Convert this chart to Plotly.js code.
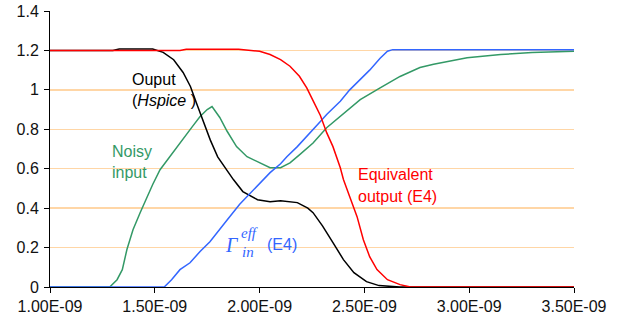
<!DOCTYPE html>
<html><head><meta charset="utf-8">
<script src="https://cdn.plot.ly/plotly-3.0.1.min.js"></script>
<style>html,body{margin:0;padding:0;background:#fff}#c{width:624px;height:326px}</style>
</head><body><div id="c"></div>
<script>
// time in ns, voltage in V
const hspiceT = [1.00,1.30,1.33,1.49,1.54,1.59,1.635,1.67,1.70,1.73,1.765,1.80,1.835,1.875,1.92,1.99,2.05,2.10,2.18,2.23,2.255,2.30,2.35,2.40,2.45,2.51,2.57,2.67,3.50];
const hspiceV = [1.200,1.200,1.207,1.207,1.19,1.153,1.088,1.017,0.93,0.845,0.745,0.66,0.605,0.545,0.484,0.443,0.433,0.438,0.428,0.40,0.377,0.31,0.225,0.139,0.073,0.027,0.007,0.0,0.0];

const equivT = [1.00,1.62,1.65,1.90,2.00,2.05,2.10,2.145,2.19,2.225,2.255,2.29,2.32,2.35,2.385,2.40,2.43,2.465,2.495,2.525,2.56,2.61,2.67,2.72,3.50];
const equivV = [1.200,1.200,1.206,1.206,1.196,1.179,1.153,1.12,1.069,1.01,0.945,0.87,0.783,0.712,0.605,0.545,0.458,0.357,0.24,0.154,0.088,0.037,0.012,0.0,0.0];

const noisyT = [1.00,1.285,1.32,1.345,1.367,1.396,1.43,1.463,1.49,1.525,1.573,1.62,1.68,1.716,1.75,1.773,1.81,1.845,1.89,1.94,2.00,2.05,2.10,2.145,2.19,2.255,2.32,2.385,2.48,2.575,2.67,2.765,2.83,2.99,3.15,3.30,3.50];
const noisyV = [0,0,0.037,0.088,0.19,0.29,0.377,0.458,0.52,0.595,0.665,0.73,0.815,0.865,0.9,0.915,0.86,0.79,0.712,0.661,0.63,0.605,0.605,0.63,0.67,0.73,0.808,0.865,0.95,1.01,1.068,1.113,1.13,1.163,1.179,1.19,1.196];

const gammaT = [1.00,1.545,1.58,1.62,1.668,1.716,1.763,1.81,1.845,1.905,1.955,2.00,2.05,2.10,2.13,2.18,2.225,2.29,2.32,2.385,2.43,2.48,2.525,2.575,2.61,2.635,3.50];
const gammaV = [0,0,0.037,0.088,0.123,0.18,0.23,0.295,0.34,0.42,0.475,0.529,0.58,0.625,0.661,0.712,0.762,0.839,0.875,0.942,1.0,1.05,1.1,1.16,1.196,1.204,1.204];

const xTickVals = [1.0,1.5,2.0,2.5,3.0,3.5];
const xTickText = ["1.00E-09","1.50E-09","2.00E-09","2.50E-09","3.00E-09","3.50E-09"];
const yTickVals = [0,0.2,0.4,0.6,0.8,1.0,1.2,1.4];
const yTickText = ["0","0.2","0.4","0.6","0.8","1","1.2","1.4"];

const traces = [
  {x: noisyT, y: noisyV, mode:'lines', line:{color:'#339966', width:1.5}},
  {x: hspiceT, y: hspiceV, mode:'lines', line:{color:'#000000', width:1.5}},
  {x: gammaT, y: gammaV, mode:'lines', line:{color:'#3366FF', width:1.5}},
  {x: equivT, y: equivV, mode:'lines', line:{color:'#FF0000', width:1.5}}
];

const F = 'Arial, "Liberation Sans", sans-serif';
const TF = '"Times New Roman", "Liberation Serif", serif';
const ann = (x,y,text,color,opts={}) => Object.assign({x,y,xref:'x',yref:'y',text,showarrow:false,xanchor:'left',yanchor:'middle',font:{family:F,size:16,color}},opts);

const layout = {
  width:624, height:326,
  margin:{l:50,r:50,t:11,b:39},
  paper_bgcolor:'#fff', plot_bgcolor:'#fff',
  showlegend:false,
  xaxis:{range:[1,3.5], tickvals:xTickVals, ticktext:xTickText, showgrid:false, zeroline:false,
    showline:true, linecolor:'#000', linewidth:1, ticks:'outside', ticklen:5, tickcolor:'#000',
    tickfont:{family:F,size:16,color:'#111'}},
  yaxis:{range:[0,1.4], tickvals:yTickVals, ticktext:yTickText, showgrid:true, gridcolor:'#FFD6A6', gridwidth:1.3,
    zeroline:false, showline:true, linecolor:'#000', linewidth:1, ticks:'outside', ticklen:5, tickcolor:'#000',
    tickfont:{family:F,size:16,color:'#111'}, ticklabelstandoff:2},
  annotations:[
    ann(1.382,1.052,'Ouput','#000'),
    ann(1.382,0.946,'(<i>Hspice</i> )','#000'),
    ann(1.286,0.687,'Noisy','#339966'),
    ann(1.286,0.580,'input','#339966'),
    ann(2.46,0.570,'Equivalent','#FF0000'),
    ann(2.46,0.458,'output (E4)','#FF0000'),
    ann(1.866,0.215,'<i>Γ</i>','#3366FF',{xanchor:'center',font:{family:TF,size:20,color:'#3366FF'}}),
    ann(1.953,0.272,'<i>eff</i>','#3366FF',{xanchor:'center',font:{family:TF,size:15,color:'#3366FF'}}),
    ann(1.945,0.178,'<i>in</i>','#3366FF',{xanchor:'center',font:{family:TF,size:15,color:'#3366FF'}}),
    ann(2.026,0.215,'(E4)','#3366FF')
  ]
};
Plotly.newPlot('c', traces, layout, {displayModeBar:false, staticPlot:true});
</script></body></html>
